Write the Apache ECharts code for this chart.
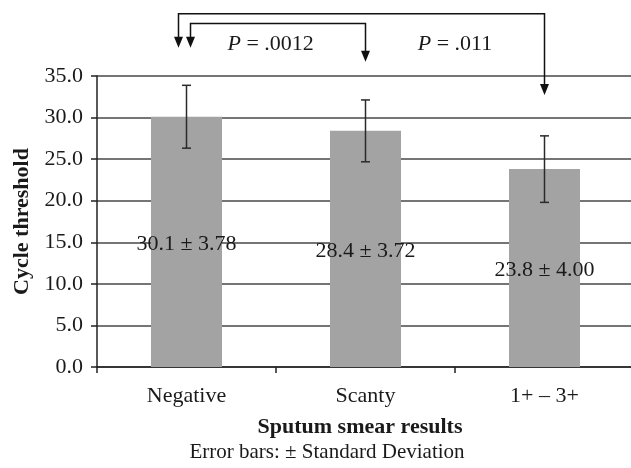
<!DOCTYPE html>
<html>
<head>
<meta charset="utf-8">
<script src="https://cdn.jsdelivr.net/npm/echarts@6/dist/echarts.min.js"></script>
<style>
  html, body { margin: 0; padding: 0; background: #fff; }
  #chart { width: 631px; height: 468px; }
</style>
</head>
<body>
<div id="chart"></div>
<script>
// data
const categories = ['Negative', 'Scanty', '1+ – 3+'];
const meanCt = [30.1, 28.4, 23.8];
const sdCt = [3.78, 3.72, 4.00];

// significance brackets: which bars are compared and the P value
const pairFrom = [0, 0];
const pairTo = [1, 2];
const pValues = ['.0012', '.011'];

// bracket layout, in axis units above the top of the scale
const bracketTop = [41.3, 42.5];
const fromTip = [38.4, 38.4];
const toTip = [36.7, 32.7];
const fromShift = [4, -8]; // px, so the two left arrows sit side by side
const pTextAt = [0.47, 1.5]; // category position of each P label
const pTextY = 38.8;

const FONT = '"Liberation Serif", "Times New Roman", serif';
const INK = '#1a1a1a';

const chart = echarts.init(document.getElementById('chart'));

const errorData = meanCt.map((m, i) => [i, m - sdCt[i], m + sdCt[i]]);
const pairData = pairFrom.map((f, i) => [f, pairTo[i], bracketTop[i], fromTip[i], toTip[i]]);

const arrow = (x, yTip, style) => ({
  type: 'polygon',
  shape: { points: [[x - 4.5, yTip - 11], [x + 4.5, yTip - 11], [x, yTip]] },
  style: { fill: style.stroke }
});

const option = {
  backgroundColor: '#fff',
  animation: false,
  textStyle: { fontFamily: FONT },
  grid: { left: 97, top: 76, width: 537, height: 291, outerBoundsMode: 'none', containLabel: false },
  xAxis: {
    type: 'category',
    data: categories,
    name: 'Sputum smear results',
    nameLocation: 'middle',
    nameGap: 49,
    nameTextStyle: { fontFamily: FONT, fontSize: 22, fontWeight: 'bold', color: INK, padding: [0, 11, 0, 0] },
    axisLine: { lineStyle: { color: '#222', width: 1.5 } },
    axisTick: { show: true, length: 6, lineStyle: { color: '#222', width: 1.5 } },
    axisLabel: { fontFamily: FONT, fontSize: 22, color: INK, margin: 18 },
    splitLine: { show: false }
  },
  yAxis: {
    type: 'value',
    min: 0,
    max: 35,
    interval: 5,
    name: 'Cycle threshold',
    nameLocation: 'middle',
    nameGap: 64,
    nameTextStyle: { fontFamily: FONT, fontSize: 22, fontWeight: 'bold', color: INK },
    axisLine: { show: true, lineStyle: { color: '#222', width: 1.5 } },
    axisTick: { show: true, length: 6, lineStyle: { color: '#222', width: 1.5 } },
    axisLabel: { fontFamily: FONT, fontSize: 22, color: INK, margin: 14, formatter: v => v.toFixed(1) },
    splitLine: { show: true, lineStyle: { color: '#474747', width: 1.5 } }
  },
  graphic: [{
    type: 'text',
    x: 327,
    y: 452,
    style: {
      text: 'Error bars: ± Standard Deviation',
      fontFamily: FONT,
      fontSize: 21,
      fill: INK,
      textAlign: 'center',
      textVerticalAlign: 'middle'
    }
  }],
  series: [
    {
      type: 'bar',
      data: meanCt,
      barWidth: 71,
      itemStyle: { color: '#a3a3a3' },
      label: {
        show: true,
        position: 'inside',
        offset: [0, 2],
        fontFamily: FONT,
        fontSize: 22,
        color: INK,
        formatter: p => `${meanCt[p.dataIndex].toFixed(1)} ± ${sdCt[p.dataIndex].toFixed(2)}`
      },
      z: 2
    },
    {
      type: 'custom',
      data: errorData,
      encode: { x: 0, y: [1, 2] },
      z: 3,
      renderItem: (params, api) => {
        const i = api.value(0);
        const lo = api.coord([i, api.value(1)]);
        const hi = api.coord([i, api.value(2)]);
        const w = 4.5;
        const style = { stroke: '#2a2a2a', lineWidth: 1.5 };
        return {
          type: 'group',
          children: [
            { type: 'line', shape: { x1: lo[0], y1: lo[1], x2: hi[0], y2: hi[1] }, style },
            { type: 'line', shape: { x1: lo[0] - w, y1: lo[1], x2: lo[0] + w, y2: lo[1] }, style },
            { type: 'line', shape: { x1: hi[0] - w, y1: hi[1], x2: hi[0] + w, y2: hi[1] }, style }
          ]
        };
      }
    },
    {
      type: 'custom',
      data: pairData,
      encode: { x: [0, 1], y: [2, 3, 4] },
      clip: false,
      z: 4,
      renderItem: (params, api) => {
        const k = params.dataIndex;
        const a = api.coord([api.value(0), api.value(2)]);
        const b = api.coord([api.value(1), api.value(2)]);
        const xa = a[0] + fromShift[k];
        const xb = b[0];
        const yTop = a[1];
        const yA = api.coord([api.value(0), api.value(3)])[1];
        const yB = api.coord([api.value(1), api.value(4)])[1];
        const yText = api.coord([api.value(0), pTextY])[1];
        // fractional category position for the P label
        const c0 = Math.floor(pTextAt[k]);
        const x0 = api.coord([c0, 0])[0];
        const x1 = api.coord([c0 + 1, 0])[0];
        const xText = x0 + (pTextAt[k] - c0) * (x1 - x0);
        const style = { stroke: '#111', lineWidth: 1.5, fill: null };
        return {
          type: 'group',
          children: [
            {
              type: 'polyline',
              shape: { points: [[xa, yA - 10], [xa, yTop], [xb, yTop], [xb, yB - 10]] },
              style
            },
            arrow(xa, yA, style),
            arrow(xb, yB, style),
            {
              type: 'text',
              x: xText,
              y: yText,
              style: {
                text: '{i|P} = ' + pValues[k],
                rich: { i: { fontStyle: 'italic', fontFamily: FONT, fontSize: 22, fill: INK } },
                fontFamily: FONT,
                fontSize: 22,
                fill: INK,
                textAlign: 'center',
                textVerticalAlign: 'middle'
              }
            }
          ]
        };
      }
    }
  ]
};

chart.setOption(option);
</script>
</body>
</html>
